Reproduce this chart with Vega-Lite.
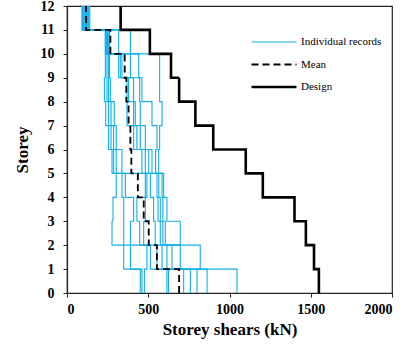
{
  "$schema": "https://vega.github.io/schema/vega-lite/v6.json",
  "autosize": "none",
  "width": 325,
  "height": 287,
  "padding": {"left": 67, "top": 6, "right": 27, "bottom": 53},
  "background": "white",
  "config": {
    "view": {"stroke": "#222", "strokeWidth": 1.2},
    "axis": {
      "grid": false,
      "domainColor": "#222",
      "domainWidth": 1.2,
      "tickColor": "#222",
      "tickSize": 4,
      "labelFont": "Liberation Serif",
      "labelFontWeight": "bold",
      "labelFontSize": 14,
      "labelColor": "black",
      "titleFont": "Liberation Serif",
      "titleFontWeight": "bold",
      "titleFontSize": 17,
      "titleColor": "black"
    },
    "legend": {
      "labelFont": "Liberation Serif",
      "labelFontSize": 11,
      "labelColor": "black"
    }
  },
  "data": {
    "values": [
      {"s":"Individual records","r":"r1","y":0,"v":451},{"s":"Individual records","r":"r1","y":1,"v":390},{"s":"Individual records","r":"r1","y":2,"v":277},{"s":"Individual records","r":"r1","y":3,"v":283},{"s":"Individual records","r":"r1","y":4,"v":303},{"s":"Individual records","r":"r1","y":5,"v":277},{"s":"Individual records","r":"r1","y":6,"v":256},{"s":"Individual records","r":"r1","y":7,"v":238},{"s":"Individual records","r":"r1","y":8,"v":230},{"s":"Individual records","r":"r1","y":9,"v":236},{"s":"Individual records","r":"r1","y":10,"v":235},{"s":"Individual records","r":"r1","y":11,"v":100},{"s":"Individual records","r":"r1","y":12,"v":100},
      {"s":"Individual records","r":"r2","y":0,"v":461},{"s":"Individual records","r":"r2","y":1,"v":349},{"s":"Individual records","r":"r2","y":2,"v":349},{"s":"Individual records","r":"r2","y":3,"v":349},{"s":"Individual records","r":"r2","y":4,"v":338},{"s":"Individual records","r":"r2","y":5,"v":287},{"s":"Individual records","r":"r2","y":6,"v":271},{"s":"Individual records","r":"r2","y":7,"v":256},{"s":"Individual records","r":"r2","y":8,"v":246},{"s":"Individual records","r":"r2","y":9,"v":246},{"s":"Individual records","r":"r2","y":10,"v":242},{"s":"Individual records","r":"r2","y":11,"v":92},{"s":"Individual records","r":"r2","y":12,"v":92},
      {"s":"Individual records","r":"r3","y":0,"v":476},{"s":"Individual records","r":"r3","y":1,"v":492},{"s":"Individual records","r":"r3","y":2,"v":390},{"s":"Individual records","r":"r3","y":3,"v":410},{"s":"Individual records","r":"r3","y":4,"v":359},{"s":"Individual records","r":"r3","y":5,"v":303},{"s":"Individual records","r":"r3","y":6,"v":287},{"s":"Individual records","r":"r3","y":7,"v":271},{"s":"Individual records","r":"r3","y":8,"v":256},{"s":"Individual records","r":"r3","y":9,"v":256},{"s":"Individual records","r":"r3","y":10,"v":238},{"s":"Individual records","r":"r3","y":11,"v":110},{"s":"Individual records","r":"r3","y":12,"v":110},
      {"s":"Individual records","r":"r4","y":0,"v":615},{"s":"Individual records","r":"r4","y":1,"v":513},{"s":"Individual records","r":"r4","y":2,"v":447},{"s":"Individual records","r":"r4","y":3,"v":430},{"s":"Individual records","r":"r4","y":4,"v":482},{"s":"Individual records","r":"r4","y":5,"v":338},{"s":"Individual records","r":"r4","y":6,"v":303},{"s":"Individual records","r":"r4","y":7,"v":291},{"s":"Individual records","r":"r4","y":8,"v":267},{"s":"Individual records","r":"r4","y":9,"v":262},{"s":"Individual records","r":"r4","y":10,"v":246},{"s":"Individual records","r":"r4","y":11,"v":95},{"s":"Individual records","r":"r4","y":12,"v":95},
      {"s":"Individual records","r":"r5","y":0,"v":625},{"s":"Individual records","r":"r5","y":1,"v":554},{"s":"Individual records","r":"r5","y":2,"v":472},{"s":"Individual records","r":"r5","y":3,"v":482},{"s":"Individual records","r":"r5","y":4,"v":492},{"s":"Individual records","r":"r5","y":5,"v":461},{"s":"Individual records","r":"r5","y":6,"v":410},{"s":"Individual records","r":"r5","y":7,"v":369},{"s":"Individual records","r":"r5","y":8,"v":369},{"s":"Individual records","r":"r5","y":9,"v":318},{"s":"Individual records","r":"r5","y":10,"v":250},{"s":"Individual records","r":"r5","y":11,"v":120},{"s":"Individual records","r":"r5","y":12,"v":120},
      {"s":"Individual records","r":"r6","y":0,"v":718},{"s":"Individual records","r":"r6","y":1,"v":585},{"s":"Individual records","r":"r6","y":2,"v":543},{"s":"Individual records","r":"r6","y":3,"v":533},{"s":"Individual records","r":"r6","y":4,"v":513},{"s":"Individual records","r":"r6","y":5,"v":482},{"s":"Individual records","r":"r6","y":6,"v":430},{"s":"Individual records","r":"r6","y":7,"v":410},{"s":"Individual records","r":"r6","y":8,"v":379},{"s":"Individual records","r":"r6","y":9,"v":328},{"s":"Individual records","r":"r6","y":10,"v":253},{"s":"Individual records","r":"r6","y":11,"v":105},{"s":"Individual records","r":"r6","y":12,"v":105},
      {"s":"Individual records","r":"r7","y":0,"v":759},{"s":"Individual records","r":"r7","y":1,"v":697},{"s":"Individual records","r":"r7","y":2,"v":574},{"s":"Individual records","r":"r7","y":3,"v":560},{"s":"Individual records","r":"r7","y":4,"v":554},{"s":"Individual records","r":"r7","y":5,"v":503},{"s":"Individual records","r":"r7","y":6,"v":451},{"s":"Individual records","r":"r7","y":7,"v":420},{"s":"Individual records","r":"r7","y":8,"v":410},{"s":"Individual records","r":"r7","y":9,"v":338},{"s":"Individual records","r":"r7","y":10,"v":318},{"s":"Individual records","r":"r7","y":11,"v":127},{"s":"Individual records","r":"r7","y":12,"v":127},
      {"s":"Individual records","r":"r8","y":0,"v":800},{"s":"Individual records","r":"r8","y":1,"v":820},{"s":"Individual records","r":"r8","y":2,"v":590},{"s":"Individual records","r":"r8","y":3,"v":574},{"s":"Individual records","r":"r8","y":4,"v":565},{"s":"Individual records","r":"r8","y":5,"v":523},{"s":"Individual records","r":"r8","y":6,"v":482},{"s":"Individual records","r":"r8","y":7,"v":451},{"s":"Individual records","r":"r8","y":8,"v":447},{"s":"Individual records","r":"r8","y":9,"v":390},{"s":"Individual records","r":"r8","y":10,"v":258},{"s":"Individual records","r":"r8","y":11,"v":115},{"s":"Individual records","r":"r8","y":12,"v":115},
      {"s":"Individual records","r":"r9","y":0,"v":862},{"s":"Individual records","r":"r9","y":1,"v":646},{"s":"Individual records","r":"r9","y":2,"v":605},{"s":"Individual records","r":"r9","y":3,"v":590},{"s":"Individual records","r":"r9","y":4,"v":585},{"s":"Individual records","r":"r9","y":5,"v":545},{"s":"Individual records","r":"r9","y":6,"v":554},{"s":"Individual records","r":"r9","y":7,"v":523},{"s":"Individual records","r":"r9","y":8,"v":461},{"s":"Individual records","r":"r9","y":9,"v":441},{"s":"Individual records","r":"r9","y":10,"v":390},{"s":"Individual records","r":"r9","y":11,"v":133},{"s":"Individual records","r":"r9","y":12,"v":133},
      {"s":"Individual records","r":"r10","y":0,"v":1046},{"s":"Individual records","r":"r10","y":1,"v":615},{"s":"Individual records","r":"r10","y":2,"v":697},{"s":"Individual records","r":"r10","y":3,"v":615},{"s":"Individual records","r":"r10","y":4,"v":595},{"s":"Individual records","r":"r10","y":5,"v":564},{"s":"Individual records","r":"r10","y":6,"v":570},{"s":"Individual records","r":"r10","y":7,"v":585},{"s":"Individual records","r":"r10","y":8,"v":570},{"s":"Individual records","r":"r10","y":9,"v":570},{"s":"Individual records","r":"r10","y":10,"v":262},{"s":"Individual records","r":"r10","y":11,"v":140},{"s":"Individual records","r":"r10","y":12,"v":140},
      {"s":"Mean","r":"mean","y":0,"v":690},{"s":"Mean","r":"mean","y":1,"v":553},{"s":"Mean","r":"mean","y":2,"v":503},{"s":"Mean","r":"mean","y":3,"v":472},{"s":"Mean","r":"mean","y":4,"v":436},{"s":"Mean","r":"mean","y":5,"v":396},{"s":"Mean","r":"mean","y":6,"v":390},{"s":"Mean","r":"mean","y":7,"v":379},{"s":"Mean","r":"mean","y":8,"v":365},{"s":"Mean","r":"mean","y":9,"v":355},{"s":"Mean","r":"mean","y":10,"v":267},{"s":"Mean","r":"mean","y":11,"v":117},{"s":"Mean","r":"mean","y":12,"v":117},
      {"s":"Design","r":"design","y":0,"v":1550},{"s":"Design","r":"design","y":1,"v":1520},{"s":"Design","r":"design","y":2,"v":1470},{"s":"Design","r":"design","y":3,"v":1400},{"s":"Design","r":"design","y":4,"v":1205},{"s":"Design","r":"design","y":5,"v":1100},{"s":"Design","r":"design","y":6,"v":900},{"s":"Design","r":"design","y":7,"v":790},{"s":"Design","r":"design","y":8,"v":690},{"s":"Design","r":"design","y":9,"v":640},{"s":"Design","r":"design","y":10,"v":510},{"s":"Design","r":"design","y":11,"v":330},{"s":"Design","r":"design","y":12,"v":330}
    ]
  },
  "mark": {"type": "line", "interpolate": "step-before", "clip": true},
  "encoding": {
    "x": {
      "field": "v", "type": "quantitative",
      "scale": {"domain": [0, 2000], "nice": false},
      "axis": {"values": [0, 500, 1000, 1500, 2000], "format": "d", "title": "Storey shears (kN)", "labelPadding": 5, "titlePadding": 5}
    },
    "y": {
      "field": "y", "type": "quantitative",
      "scale": {"domain": [0, 12], "nice": false},
      "axis": {"values": [0,1,2,3,4,5,6,7,8,9,10,11,12], "title": "Storey", "labelPadding": 9, "titlePadding": 9}
    },
    "order": {"field": "y", "type": "quantitative"},
    "detail": {"field": "r"},
    "color": {
      "field": "s", "type": "nominal",
      "scale": {"domain": ["Individual records", "Mean", "Design"], "range": ["#10AEEA", "#000000", "#000000"]},
      "legend": {"title": null, "orient": "none", "legendX": 183, "legendY": 26, "symbolType": "stroke", "symbolSize": 2025, "labelOffset": 3, "clipHeight": 20, "rowPadding": 2.5, "labelFont": "Liberation Serif", "labelFontSize": 11, "labelFontWeight": "normal"}
    },
    "strokeDash": {
      "field": "s", "type": "nominal",
      "scale": {"domain": ["Individual records", "Mean", "Design"], "range": [[1, 0], [7, 4], [1, 0]]}
    },
    "strokeWidth": {
      "field": "s", "type": "nominal",
      "scale": {"domain": ["Individual records", "Mean", "Design"], "range": [1.1, 2.6, 2.4]}
    }
  }
}
